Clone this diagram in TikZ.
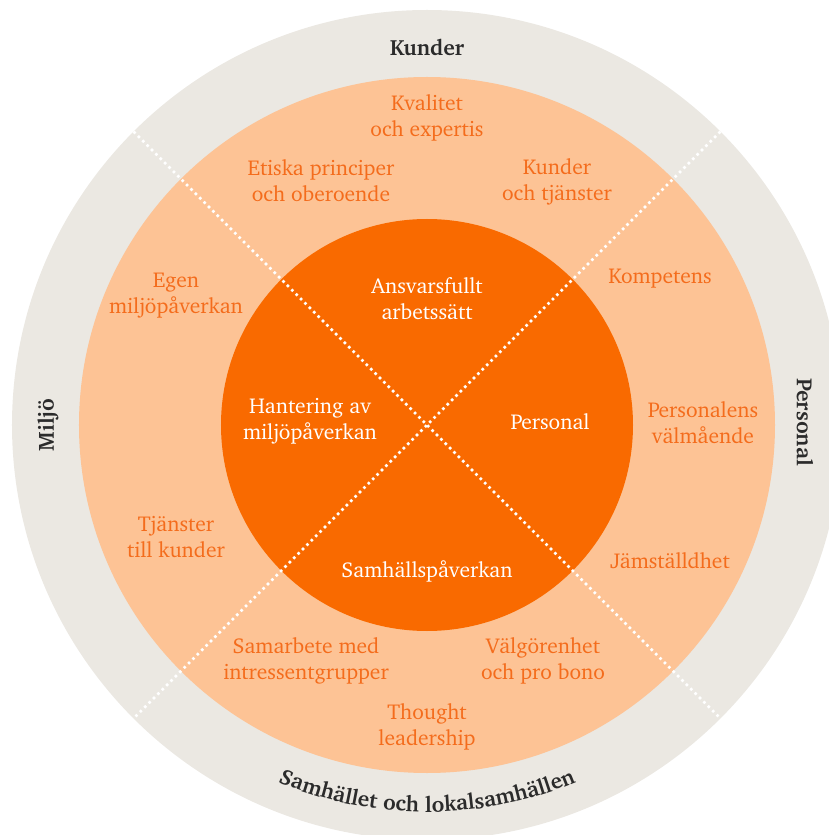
\documentclass[tikz,border=0pt]{standalone}
\usepackage[T1]{fontenc}
\usepackage{charter}
\usepackage{tikz}
\usetikzlibrary{decorations.text}

\definecolor{ringgray}{HTML}{EBE8E2}
\definecolor{peach}{HTML}{FDC395}
\definecolor{darkorange}{HTML}{F96A00}
\definecolor{txtorange}{HTML}{F46C1C}
\definecolor{txtdark}{HTML}{2B2B2B}

\begin{document}
\begin{tikzpicture}[x=1pt, y=1pt,
    lbl/.style = {text=txtorange, align=center, font=\fontsize{21.5}{26}\selectfont},
    core/.style = {text=white, align=center, font=\fontsize{21.5}{26}\selectfont},
    area/.style = {text=txtdark, font=\bfseries\fontsize{22}{26}\selectfont},
    divider/.style = {white, line width=2.6pt, dash pattern=on 2.6pt off 3.6pt}]
            \useasboundingbox (-427,-410) rectangle (402,425);
            \clip (-427,-410) rectangle (402,425);

            % rings
            \fill[ringgray] (0,0) circle (415);
            \fill[peach] (0,0) circle (348);
            \fill[darkorange] (0,0) circle (206);

            % dividers
            \coordinate (nw) at (135:415);
            \coordinate (ne) at (45:415);
            \coordinate (sw) at (225:415);
            \coordinate (se) at (315:415);
            \draw[divider] (nw) -- (se);
            \draw[divider] (ne) -- (sw);

            % outer areas
            \node[area] (kunder) at (0,378) {Kunder};
            \node[area, rotate=90] (miljo) at (-379,0) {Miljö};
            \node[area, rotate=-90] (personal) at (378,3) {Personal};
            \path[decorate, decoration={text along path, text align=center,
                text={|\bfseries\fontsize{22}{26}\selectfont\color{txtdark}|Samhället och lokalsamhällen}}]
                (230:387) arc[start angle=230, end angle=310, radius=387];

            % core
            \node[core] (ansvar) at (0,126) {Ansvarsfullt\\arbetssätt};
            \node[core] (hantering) at (-117,4) {Hantering av\\miljöpåverkan};
            \node[core] (pers) at (123,3) {Personal};
            \node[core] (samh) at (0,-146) {Samhällspåverkan};

            % middle ring
            \node[lbl] (kvalitet) at (0,307) {Kvalitet\\och expertis};
            \node[lbl] (etiska) at (-106,244) {Etiska principer\\och oberoende};
            \node[lbl] (kundtj) at (130,243) {Kunder\\och tjänster};
            \node[lbl] (egen) at (-251,130) {Egen\\miljöpåverkan};
            \node[lbl] (kompetens) at (233,147) {Kompetens};
            \node[lbl] (valmaende) at (276,2) {Personalens\\välmående};
            \node[lbl] (tjanster) at (-251,-112) {Tjänster\\till kunder};
            \node[lbl] (jamst) at (243,-136) {Jämställdhet};
            \node[lbl] (samarbete) at (-121,-236) {Samarbete med\\intressentgrupper};
            \node[lbl] (valgor) at (116,-236) {Välgörenhet\\och pro bono};
            \node[lbl] (thought) at (0,-302) {Thought\\leadership};
        \end{tikzpicture}
\end{document}
